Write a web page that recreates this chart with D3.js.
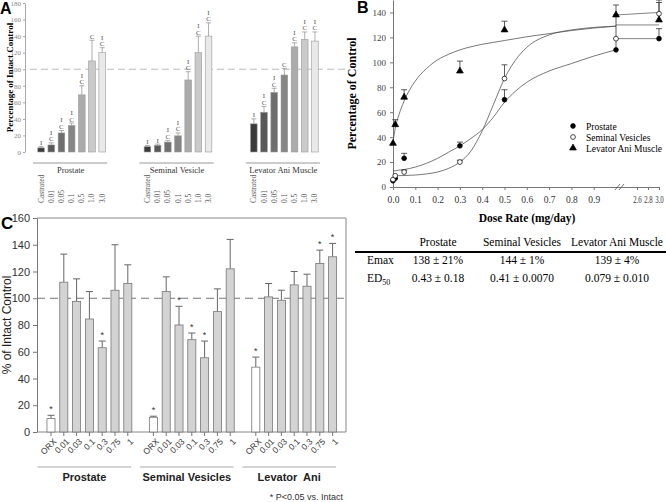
<!DOCTYPE html>
<html lang="en">
<head>
<meta charset="UTF-8">
<title>Dose response figure</title>
<script src="https://d3js.org/d3.v7.min.js"></script>
<style>
  body { margin: 0; background: #fff; }
  svg { display: block; }
</style>
</head>
<body>
<svg id="fig" width="666" height="502"></svg>
<script>
// ---- panel A data (% of intact control) ----
const groupsA = ["Prostate", "Seminal Vesicle", "Levator Ani Muscle"];
const dosesA = ["Castrated", "0.01", "0.05", "0.1", "0.5", "1.0", "3.0"];
const prostateA = [5, 8.5, 23, 32, 69, 110, 120];
const prostateAErr = [6.5, 11, 26, 35, 80, 135, 126];
const prostateASig = ["I", "IC", "IC", "IC", "IC", "C", "IC"];
const seminalA = [6.4, 8, 12, 19.5, 87, 120, 140];
const seminalAErr = [8, 9.5, 14, 23, 97, 140, 156];
const seminalASig = ["I", "I", "IC", "IC", "IC", "IC", "IC"];
const levatorA = [34, 48, 72, 93, 127, 136, 134];
const levatorAErr = [40, 55, 77, 101, 132, 145, 145];
const levatorASig = ["I", "IC", "IC", "C", "IC", "IC", "IC"];

// ---- panel B data (percentage of control vs dose rate) ----
const dosesB = [0, 0.01, 0.05, 0.3, 0.5, 1.0, 3.0];
const prostateB = [5, 7, 23, 33, 70, 110, 119];
const prostateBErr = [null, null, 27, 36, 78, 119, 127];
const seminalB = [6, 9, 12, 20, 87, 119, 139];
const seminalBErr = [null, null, 13.5, 21.5, 98, 138, 148];
const levatorB = [35, 50, 72, 93, 126, 138, 134];
const levatorBErr = [null, 54, 78, 101, 133, 146, 150];
// fitted curves
const fitDoses = [0, 0.01, 0.025, 0.05, 0.1, 0.15, 0.2, 0.25, 0.3, 0.35, 0.4, 0.45, 0.5, 0.55, 0.6, 0.7, 0.8, 0.9, 1.0];
const prostateFit = [13, 13, 13.5, 14, 16, 19, 23, 28, 33, 39, 46, 56, 68, 77, 84, 93, 99, 105, 110];
const seminalFit = [9, 9, 9.1, 9.2, 9.6, 10.5, 12, 15, 20, 29, 45, 66, 87, 102, 112, 122, 126, 128, 129];
const levatorFit = [36, 47, 57, 69, 85, 95, 102, 106.5, 110, 112.5, 114.5, 116, 117.5, 119, 120.5, 123, 125.5, 127.5, 129];
const tailDoses = [1.0, 3.0];
const tailLines = [[138, 140], [130, 130], [119, 119]];
const ticksB = [0, 0.1, 0.2, 0.3, 0.4, 0.5, 0.6, 0.7, 0.8, 0.9, 2.6, 2.8, 3.0];
const seriesNamesB = ["Prostate", "Seminal Vesicles", "Levator Ani Muscle"];

// ---- table ----
const tableCols = ["Prostate", "Seminal Vesicles", "Levator Ani Muscle"];
const emaxRow = ["138 ± 21%", "144 ± 1%", "139 ± 4%"];
const ed50Row = ["0.43 ± 0.18", "0.41 ± 0.0070", "0.079 ± 0.010"];

// ---- panel C data ----
const groupsC = ["Prostate", "Seminal Vesicles", "Levator  Ani"];
const dosesC = ["ORX", "0.01", "0.03", "0.1", "0.3", "0.75", "1"];
const prostateC = [10, 112, 97.5, 84.5, 63, 106, 111];
const prostateCErr = [12.5, 133, 114.5, 105, 68, 140, 125];
const prostateCStar = [1, 0, 0, 0, 1, 0, 0];
const seminalC = [11, 105, 80, 69, 55.5, 90, 122];
const seminalCErr = [11.8, 116, 94, 74, 68, 107, 144];
const seminalCStar = [1, 0, 1, 1, 1, 0, 0];
const levatorC = [48.5, 101, 98.5, 110, 109, 126, 131];
const levatorCErr = [56, 111, 106, 120, 118, 136, 141];
const levatorCStar = [1, 0, 0, 0, 0, 1, 1];

const serif = "'Liberation Serif', 'Times New Roman', serif";
const sans = "'Liberation Sans', Arial, sans-serif";
const svg = d3.select("#fig");

// ================= Panel A =================
const gA = svg.append("g");
const yA = d3.scaleLinear().domain([0, 180]).range([152, 3]);
const xA = d3.scaleBand().domain(groupsA).range([36, 320]).paddingInner(0.33);
const xAin = d3.scaleBand().domain(dosesA).range([0, xA.bandwidth()]).paddingInner(0.35).paddingOuter(0.175);
const shadeA = d3.scaleOrdinal(dosesA, ["#3a3a3a", "#585858", "#6e6e6e", "#868686", "#ababab", "#cacaca", "#e9e9e9"]);

gA.append("text").attr("x", 0).attr("y", 14).attr("font-family", sans)
  .attr("font-weight", "bold").attr("font-size", 16).text("A");

gA.append("g").attr("transform", "translate(25,0)")
  .call(d3.axisLeft(yA).tickValues(d3.range(0, 181, 20)).tickSize(2).tickSizeOuter(0).tickPadding(2))
  .call(g => {
    g.selectAll("text").attr("font-family", serif).attr("font-size", 7).attr("fill", "#888");
    g.selectAll("line,path").attr("stroke", "#aaa");
  });

gA.append("text")
  .attr("transform", `translate(13,${yA(90)}) rotate(-90)`)
  .attr("text-anchor", "middle").attr("font-family", serif).attr("font-weight", "bold")
  .attr("font-size", 9).text("Percentage of Intact Control");

gA.append("line").attr("x1", 30).attr("x2", 346).attr("y1", yA(100)).attr("y2", yA(100))
  .attr("stroke", "#bbb").attr("stroke-dasharray", "7,4");

const seriesA = [
  { group: groupsA[0], vals: prostateA, err: prostateAErr, sig: prostateASig },
  { group: groupsA[1], vals: seminalA, err: seminalAErr, sig: seminalASig },
  { group: groupsA[2], vals: levatorA, err: levatorAErr, sig: levatorASig }
];
seriesA.forEach(s => {
  const g = gA.append("g").attr("transform", `translate(${xA(s.group)},0)`);
  const bw = xAin.bandwidth();
  dosesA.forEach((d, i) => {
    const cx = xAin(d) + bw / 2;
    g.append("line").attr("x1", cx).attr("x2", cx).attr("y1", yA(s.vals[i])).attr("y2", yA(s.err[i]))
      .attr("stroke", "#999").attr("stroke-width", 0.8);
    g.append("line").attr("x1", cx - 2.5).attr("x2", cx + 2.5).attr("y1", yA(s.err[i])).attr("y2", yA(s.err[i]))
      .attr("stroke", "#999").attr("stroke-width", 0.8);
    g.append("rect").attr("x", xAin(d)).attr("y", yA(s.vals[i]))
      .attr("width", bw).attr("height", yA(0) - yA(s.vals[i]))
      .attr("fill", shadeA(d)).attr("stroke", "#999").attr("stroke-width", 0.6);
    const letters = s.sig[i].split("");
    letters.reverse().forEach((ch, k) => {
      g.append("text").attr("x", cx).attr("y", yA(s.err[i]) - 1.5 - k * 6.5)
        .attr("text-anchor", "middle").attr("font-family", serif).attr("font-size", 7)
        .attr("fill", "#555").text(ch);
    });
    g.append("text").attr("transform", `translate(${cx + 2.5},203) rotate(-90)`)
      .attr("font-family", serif).attr("font-size", 7.5).attr("fill", "#555").text(d);
  });
  g.append("line").attr("x1", -3).attr("x2", xA.bandwidth()).attr("y1", 163).attr("y2", 163)
    .attr("stroke", "#999").attr("stroke-width", 1);
  g.append("text").attr("x", xA.bandwidth() / 2 - 1).attr("y", 173).attr("text-anchor", "middle")
    .attr("font-family", serif).attr("font-size", 8.5).attr("fill", "#333").text(s.group);
});

// ================= Panel B =================
const gB = svg.append("g");
const xB = d3.scaleLinear().domain([0, 1.0, 2.4, 3.0]).range([393, 616, 626, 659]);
const yB = d3.scaleLinear().domain([0, 150]).range([187, 0]);

gB.append("text").attr("x", 357).attr("y", 13).attr("font-family", sans)
  .attr("font-weight", "bold").attr("font-size", 16).text("B");

gB.append("g").attr("transform", "translate(393,0)")
  .call(d3.axisLeft(yB).tickValues(d3.range(0, 141, 20)).tickSize(3).tickSizeOuter(0).tickPadding(4))
  .call(g => {
    g.selectAll("text").attr("font-family", serif).attr("font-size", 9).attr("fill", "#444");
    g.selectAll("line,path").attr("stroke", "#777");
  });
gB.append("g").attr("transform", "translate(0,187)")
  .call(d3.axisBottom(xB).tickValues(ticksB).tickFormat(d3.format(".1f")).tickSize(3).tickSizeOuter(0).tickPadding(6))
  .call(g => {
    g.selectAll("text").attr("font-family", serif).attr("font-size", 9.5).attr("fill", "#333");
    g.selectAll(".tick").filter(d => d > 2).select("text")
      .attr("font-size", 9.5).attr("textLength", 8.5).attr("lengthAdjust", "spacingAndGlyphs");
    g.selectAll("line,path").attr("stroke", "#777");
  });
// axis break marks
[0, 4].forEach(off => {
  gB.append("line").attr("x1", 615 + off).attr("x2", 620 + off).attr("y1", 190).attr("y2", 184)
    .attr("stroke", "#555").attr("stroke-width", 0.8);
});

gB.append("text")
  .attr("transform", `translate(356,${yB(75)}) rotate(-90)`)
  .attr("text-anchor", "middle").attr("font-family", serif).attr("font-weight", "bold")
  .attr("font-size", 12).text("Percentage of Control");
gB.append("text").attr("x", 527).attr("y", 222).attr("text-anchor", "middle")
  .attr("font-family", serif).attr("font-weight", "bold").attr("font-size", 11.5).text("Dose Rate (mg/day)");

const fitLine = d3.line().x(d => xB(d[0])).y(d => yB(d[1])).curve(d3.curveMonotoneX);
[prostateFit, seminalFit, levatorFit].forEach(f => {
  gB.append("path").attr("d", fitLine(fitDoses.map((d, i) => [d, f[i]])))
    .attr("fill", "none").attr("stroke", "#555").attr("stroke-width", 0.8);
});
tailLines.forEach(t => {
  gB.append("path").attr("d", d3.line()(tailDoses.map((d, i) => [xB(d), yB(t[i])])))
    .attr("fill", "none").attr("stroke", "#666").attr("stroke-width", 0.8);
});

const symB = [
  { vals: prostateB, err: prostateBErr, sym: d3.symbolCircle, size: 18, fill: "#000" },
  { vals: seminalB, err: seminalBErr, sym: d3.symbolCircle, size: 18, fill: "#fff" },
  { vals: levatorB, err: levatorBErr, sym: d3.symbolTriangle, size: 20, fill: "#000" }
];
symB.forEach(s => {
  dosesB.forEach((d, i) => {
    if (s.err[i] == null) return;
    const x = xB(d);
    gB.append("line").attr("x1", x).attr("x2", x).attr("y1", yB(s.vals[i])).attr("y2", yB(s.err[i]))
      .attr("stroke", "#333").attr("stroke-width", 0.8);
    gB.append("line").attr("x1", x - 3).attr("x2", x + 3).attr("y1", yB(s.err[i])).attr("y2", yB(s.err[i]))
      .attr("stroke", "#333").attr("stroke-width", 0.8);
  });
});
symB.forEach(s => {
  dosesB.forEach((d, i) => {
    gB.append("path").attr("d", d3.symbol(s.sym, s.size)())
      .attr("transform", `translate(${xB(d)},${yB(s.vals[i])})`)
      .attr("fill", s.fill).attr("stroke", "#000").attr("stroke-width", 0.7);
  });
});

// legend
seriesNamesB.forEach((name, i) => {
  const y = 126 + i * 11;
  gB.append("path").attr("d", d3.symbol(symB[i].sym, symB[i].size)())
    .attr("transform", `translate(573,${y})`).attr("fill", symB[i].fill)
    .attr("stroke", "#000").attr("stroke-width", 0.7);
  gB.append("text").attr("x", 586).attr("y", y + 3.5).attr("font-family", serif)
    .attr("font-size", 9.5).text(name);
});

// table
const colX = [438, 522, 617];
tableCols.forEach((c, i) => {
  svg.append("text").attr("x", colX[i]).attr("y", 246).attr("text-anchor", "middle")
    .attr("font-family", serif).attr("font-size", 11.5).text(c);
  svg.append("text").attr("x", colX[i]).attr("y", 264).attr("text-anchor", "middle")
    .attr("font-family", serif).attr("font-size", 11.5).text(emaxRow[i]);
  svg.append("text").attr("x", colX[i]).attr("y", 282).attr("text-anchor", "middle")
    .attr("font-family", serif).attr("font-size", 11.5).text(ed50Row[i]);
});
svg.append("line").attr("x1", 355).attr("x2", 666).attr("y1", 252).attr("y2", 252)
  .attr("stroke", "#000").attr("stroke-width", 2);
svg.append("text").attr("x", 367).attr("y", 264).attr("font-family", serif).attr("font-size", 11.5).text("Emax");
const ed = svg.append("text").attr("x", 367).attr("y", 282).attr("font-family", serif).attr("font-size", 11.5);
ed.append("tspan").text("ED");
ed.append("tspan").attr("font-size", 8).attr("dy", 3).text("50");

// ================= Panel C =================
const gC = svg.append("g");
const yC = d3.scaleLinear().domain([0, 160]).range([432, 218]);
const xC = d3.scaleBand().domain(groupsC).range([44.6, 339]).paddingInner(0.125);
const xCin = d3.scaleBand().domain(dosesC).range([0, xC.bandwidth()]).paddingInner(0.37).paddingOuter(0.185);

gC.append("text").attr("x", 1).attr("y", 229).attr("font-family", sans)
  .attr("font-weight", "bold").attr("font-size", 17).text("C");

gC.append("g").attr("transform", "translate(37,0)")
  .call(d3.axisLeft(yC).tickValues(d3.range(0, 161, 20)).tickSize(4).tickSizeOuter(0).tickPadding(3))
  .call(g => {
    g.selectAll("text").attr("font-family", sans).attr("font-size", 11).attr("fill", "#333");
    g.selectAll("line,path").attr("stroke", "#777");
  });
// box frame
gC.append("path").attr("d", `M37,${yC(160)}H346V432H37`).attr("fill", "none").attr("stroke", "#888");

gC.append("text")
  .attr("transform", `translate(11,${yC(80)}) rotate(-90)`)
  .attr("text-anchor", "middle").attr("font-family", sans).attr("font-size", 12)
  .attr("fill", "#222").text("% of Intact Control");

gC.append("line").attr("x1", 37).attr("x2", 346).attr("y1", yC(100)).attr("y2", yC(100))
  .attr("stroke", "#777").attr("stroke-width", 1).attr("stroke-dasharray", "8,5");

const seriesC = [
  { group: groupsC[0], vals: prostateC, err: prostateCErr, star: prostateCStar },
  { group: groupsC[1], vals: seminalC, err: seminalCErr, star: seminalCStar },
  { group: groupsC[2], vals: levatorC, err: levatorCErr, star: levatorCStar }
];
seriesC.forEach(s => {
  const g = gC.append("g").attr("transform", `translate(${xC(s.group)},0)`);
  const bw = xCin.bandwidth();
  dosesC.forEach((d, i) => {
    const cx = xCin(d) + bw / 2;
    g.append("line").attr("x1", cx).attr("x2", cx).attr("y1", yC(s.vals[i])).attr("y2", yC(s.err[i]))
      .attr("stroke", "#666").attr("stroke-width", 1);
    g.append("line").attr("x1", cx - 3.5).attr("x2", cx + 3.5).attr("y1", yC(s.err[i])).attr("y2", yC(s.err[i]))
      .attr("stroke", "#666").attr("stroke-width", 1);
    g.append("rect").attr("x", xCin(d)).attr("y", yC(s.vals[i]))
      .attr("width", bw).attr("height", yC(0) - yC(s.vals[i]))
      .attr("fill", i === 0 ? "#fff" : "#d3d3d3").attr("stroke", "#777").attr("stroke-width", 0.8);
    if (s.star[i]) {
      g.append("text").attr("x", cx).attr("y", yC(s.err[i]) - 3).attr("text-anchor", "middle")
        .attr("font-family", sans).attr("font-size", 9).attr("fill", "#333").text("*");
    }
    g.append("line").attr("x1", cx).attr("x2", cx).attr("y1", 432).attr("y2", 436).attr("stroke", "#777");
    g.append("text").attr("transform", `translate(${cx + 4},440) rotate(-45)`)
      .attr("text-anchor", "end").attr("dy", "0.35em").attr("font-family", sans)
      .attr("font-size", 8.5).attr("fill", "#333").text(d);
  });
  g.append("line").attr("x1", -7).attr("x2", xC.bandwidth() - 3).attr("y1", 467).attr("y2", 467)
    .attr("stroke", "#aaa").attr("stroke-width", 1.2);
  g.append("text").attr("x", xC.bandwidth() / 2 - 5).attr("y", 481).attr("text-anchor", "middle")
    .attr("font-family", sans).attr("font-weight", "bold").attr("font-size", 11)
    .style("white-space", "pre").attr("fill", "#222").text(s.group);
});

gC.append("text").attr("x", 343).attr("y", 500).attr("text-anchor", "end")
  .attr("font-family", sans).attr("font-size", 9).attr("fill", "#333").text("* P<0.05 vs. Intact");
</script>
</body>
</html>
